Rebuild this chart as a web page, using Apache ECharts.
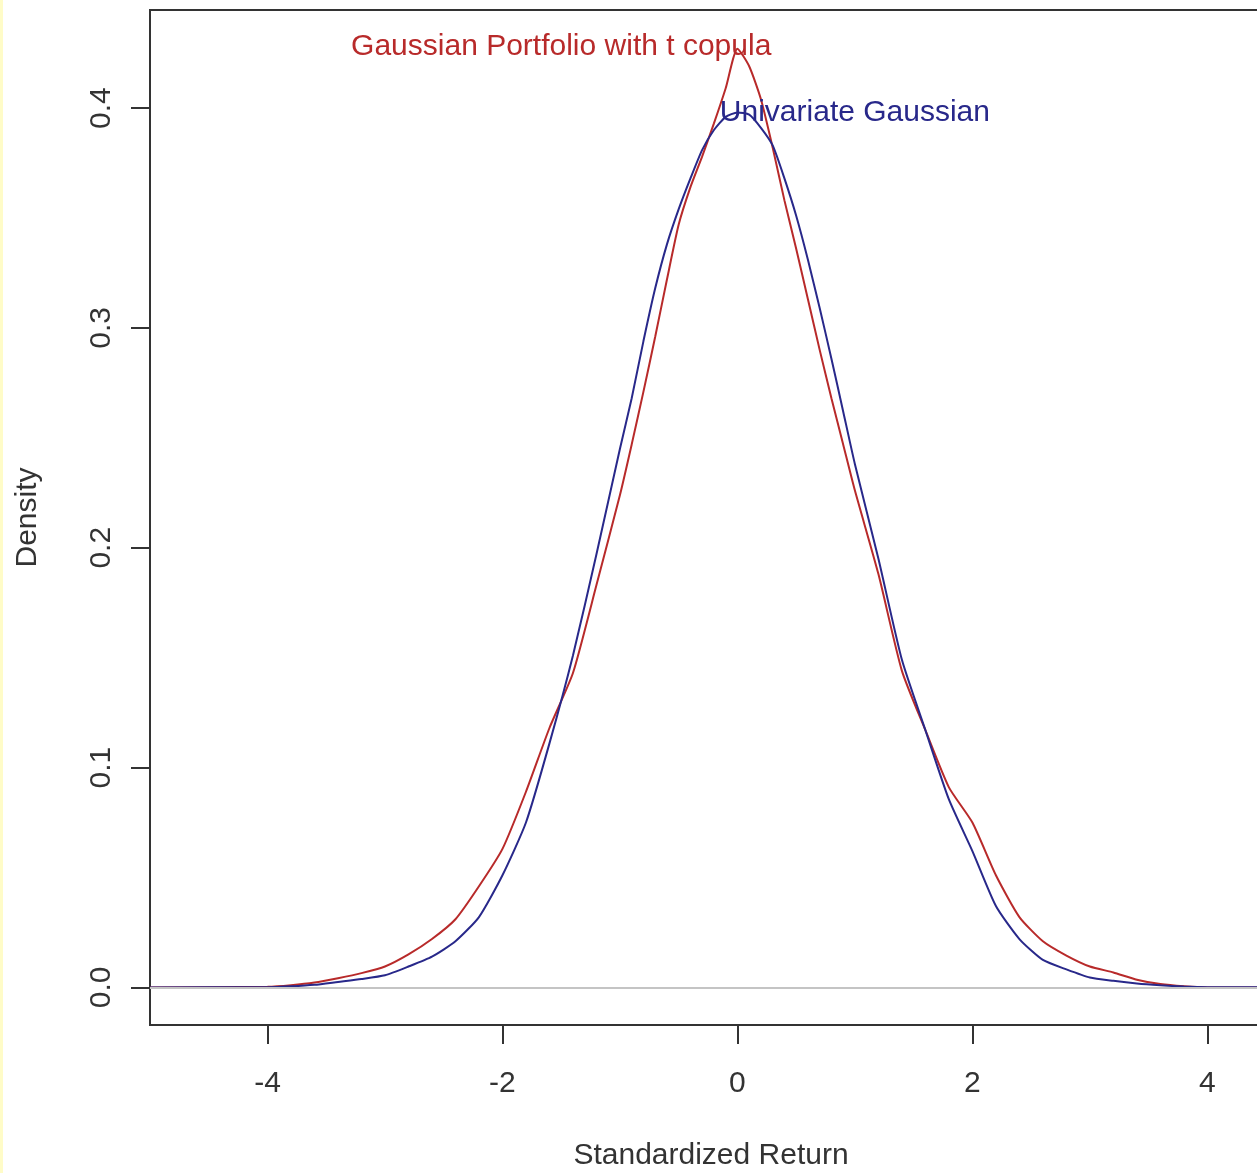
<!DOCTYPE html>
<html>
<head>
<meta charset="utf-8" />
<title>Density</title>
<script src="https://cdn.jsdelivr.net/npm/echarts@6/dist/echarts.min.js"></script>
<style>
  html, body { margin: 0; padding: 0; background: #fff; }
  #strip { position: absolute; left: 0; top: 0; width: 3px; height: 1173px; background: #fffcc8; z-index: 2; }
  #main { width: 1257px; height: 1173px; }
</style>
</head>
<body>
<div id="strip"></div>
<div id="main"></div>
<script>
// x grid (standardized return) shared by both density curves
var xs = [-5.0, -4.0, -3.8, -3.6, -3.4, -3.2, -3.0, -2.8, -2.6, -2.4, -2.2, -2.0, -1.8, -1.6, -1.4, -1.2,
  -1.0, -0.9, -0.8, -0.7, -0.6, -0.5, -0.4, -0.3, -0.2, -0.1, 0.0, 0.1, 0.2, 0.3, 0.4, 0.5, 0.6, 0.7, 0.8, 0.9,
  1.0, 1.2, 1.4, 1.6, 1.8, 2.0, 2.2, 2.4, 2.6, 2.8, 3.0, 3.2, 3.4, 3.6, 3.8, 4.0, 4.55];

// Univariate Gaussian (blue)
var gaussDens = [0, 0.0001, 0.0005, 0.0012, 0.0025, 0.0038, 0.0055, 0.0095, 0.014, 0.021, 0.032, 0.051, 0.075, 0.111, 0.151, 0.197,
  0.245, 0.268, 0.294, 0.318, 0.338, 0.354, 0.368, 0.381, 0.390, 0.396, 0.398, 0.397, 0.391, 0.383, 0.368, 0.351, 0.331, 0.309, 0.286, 0.262,
  0.238, 0.195, 0.149, 0.117, 0.0855, 0.062, 0.037, 0.022, 0.0125, 0.0082, 0.0045, 0.0030, 0.0018, 0.0010, 0.0004, 0.0001, 0];

// Gaussian portfolio with t copula (red)
var copulaDens = [0, 0.0003, 0.001, 0.0022, 0.0042, 0.0065, 0.0095, 0.015, 0.022, 0.031, 0.046, 0.063, 0.089, 0.118, 0.143, 0.183,
  0.224, 0.247, 0.271, 0.296, 0.322, 0.347, 0.364, 0.378, 0.393, 0.409, 0.427, 0.419, 0.404, 0.382, 0.358, 0.336, 0.313, 0.290, 0.268, 0.247,
  0.226, 0.188, 0.144, 0.117, 0.091, 0.075, 0.051, 0.032, 0.021, 0.0145, 0.0095, 0.0068, 0.0035, 0.0015, 0.0005, 0, 0];

var xTicks = [-4, -2, 0, 2, 4];
var yTicks = [0, 0.1, 0.2, 0.3, 0.4];

var labelX = [-1.5, 1.0];
var labelY = [0.428, 0.398];
var labelText = ['Gaussian Portfolio with t copula', 'Univariate Gaussian'];

var RED = '#b82a2a';
var BLUE = '#28288a';
var FONT = '"Liberation Sans", Arial, sans-serif';

function pairs(a, b) {
  var out = [];
  for (var i = 0; i < a.length; i++) out.push([a[i], b[i]]);
  return out;
}

var chart = echarts.init(document.getElementById('main'));

var option = {
  animation: false,
  backgroundColor: '#fff',
  grid: {
    left: 150, top: 10, width: 1122, height: 1015,
    outerBoundsMode: 'none', containLabel: false,
    show: true, borderColor: '#333', borderWidth: 2, backgroundColor: 'transparent'
  },
  xAxis: {
    type: 'value', min: -5.0, max: 4.55,
    name: 'Standardized Return', nameLocation: 'middle', nameGap: 116,
    nameTextStyle: { color: '#333', fontSize: 30, fontFamily: FONT },
    axisLine: { show: false, onZero: false },
    axisTick: { show: true, length: 19, customValues: xTicks, lineStyle: { color: '#333', width: 2 } },
    axisLabel: { customValues: xTicks, margin: 44, color: '#333', fontSize: 30, fontFamily: FONT },
    splitLine: { show: false }
  },
  yAxis: {
    type: 'value', min: -0.0171, max: 0.4446,
    name: 'Density', nameLocation: 'middle', nameGap: 107, nameRotate: 90,
    nameTextStyle: { color: '#333', fontSize: 30, fontFamily: FONT },
    axisLine: { show: false, onZero: false },
    axisTick: { show: true, length: 19, customValues: yTicks, lineStyle: { color: '#333', width: 2 } },
    axisLabel: {
      customValues: yTicks, rotate: 90, margin: 33, color: '#333', fontSize: 30, fontFamily: FONT,
      formatter: function (v) { return v.toFixed(1); }
    },
    splitLine: { show: false }
  },
  series: [
    {
      type: 'line', name: 'copula', data: pairs(xs, copulaDens),
      showSymbol: false, smooth: 0.2,
      lineStyle: { color: RED, width: 2 },
      markLine: {
        silent: true, symbol: 'none', label: { show: false },
        lineStyle: { color: '#c4c4c4', width: 2, type: 'solid' },
        data: [{ yAxis: 0 }]
      },
      z: 2
    },
    {
      type: 'line', name: 'gauss', data: pairs(xs, gaussDens),
      showSymbol: false, smooth: 0.2,
      lineStyle: { color: BLUE, width: 2 },
      z: 3
    },
    {
      type: 'scatter', symbolSize: 0, silent: true, z: 4,
      itemStyle: { color: '#fff', opacity: 0 },
      data: labelX.map(function (x, i) {
        return {
          value: [x, labelY[i]],
          label: {
            show: true, position: 'inside', formatter: labelText[i],
            color: i === 0 ? RED : BLUE, fontSize: 30, fontFamily: FONT,
            textBorderWidth: 0, opacity: 1
          }
        };
      })
    }
  ]
};

chart.setOption(option);
</script>
</body>
</html>
